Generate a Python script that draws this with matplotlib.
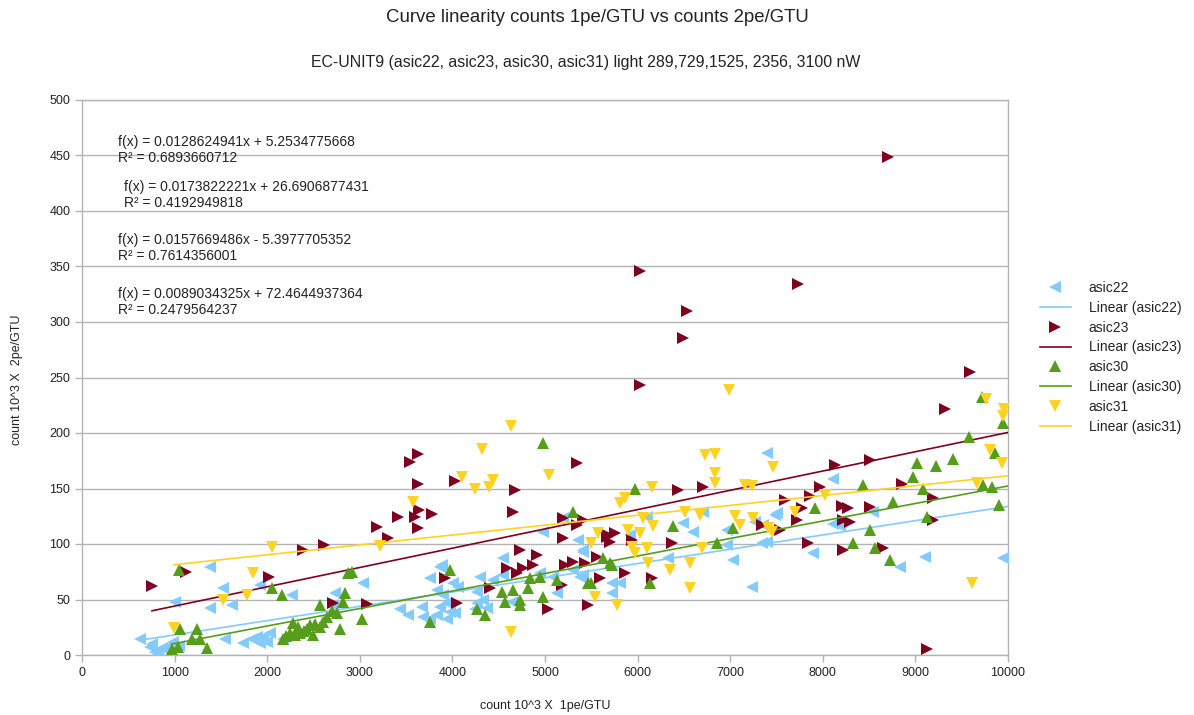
import numpy as np
import matplotlib
matplotlib.use("Agg")
import matplotlib.pyplot as plt

plt.rcParams['font.family'] = ['Liberation Sans', 'DejaVu Sans']

# ---- measured counts (x: 10^3 counts 1pe/GTU, y: 10^3 counts 2pe/GTU) ----
asic22_x = [626, 734, 788, 821, 864, 918, 950, 760, 1050, 980, 1004, 1382, 1523, 1382, 1620, 1544,
            1739, 1836, 1890, 1955, 2030, 1922, 1998, 1922, 2268, 2171, 2732, 2711, 3035, 3434,
            3520, 3672, 3683, 3758, 3866, 3758, 3834, 3898, 3866, 3941, 3974, 4028, 4006, 4060,
            3834, 3941, 4266, 4330, 4298, 4244, 4374, 4266, 4546, 4546, 4438, 4644, 4946, 5130,
            5086, 5302, 5378, 5410, 3888, 4978, 5194, 5356, 5410, 5410, 5724, 5724, 5810, 5918,
            6101, 6490, 6598, 6706, 6328, 7030, 7235, 6965, 6965, 7268, 7505, 7343, 7397, 7894,
            7397, 8110, 7354, 7484, 8110, 8186, 8542, 8834, 9104, 9946]
asic22_y = [14, 7, 3, 0, 6, 7, 3, 10, 8, 12, 48, 79, 60, 42, 45, 14,
            11, 14, 16, 16, 20, 11, 12, 63, 54, 14, 56, 45, 65, 41,
            36, 43, 34, 32, 79, 69, 59, 54, 43, 47, 39, 38, 65, 61,
            36, 32, 47, 50, 70, 41, 42, 57, 87, 72, 68, 48, 74, 56,
            70, 77, 70, 93, 81, 111, 123, 104, 95, 72, 65, 56, 65, 108,
            124, 119, 111, 129, 87, 86, 61, 113, 99, 120, 128, 101, 102, 92,
            182, 159, 117, 126, 118, 116, 129, 79, 88, 87]

asic23_x = [756, 1123, 2019, 2387, 2613, 2711, 3078, 3186, 3305, 3413, 3542, 3596, 3629, 3629,
            3629, 3639, 3780, 3920, 4028, 4050, 4406, 4590, 4654, 4676, 4698, 4730, 4762, 4870,
            4914, 5032, 5184, 5194, 5194, 5216, 5302, 5346, 5346, 5464, 5432, 5562, 5680, 5756,
            5702, 5864, 6155, 6372, 6436, 6706, 6026, 6026, 6490, 6533, 5940, 5670, 5410, 5594,
            7343, 7538, 7592, 7721, 7732, 7775, 7840, 7862, 7970, 8132, 8207, 8218, 8218, 8272,
            8294, 8510, 8510, 8650, 8704, 8855, 9125, 9190, 9190, 9320, 9590]
asic23_y = [62, 75, 70, 95, 99, 47, 46, 115, 105, 124, 174, 124, 181, 154,
            114, 131, 127, 69, 157, 47, 60, 78, 129, 149, 74, 95, 78, 81,
            90, 41, 63, 123, 105, 81, 84, 173, 117, 45, 83, 88, 108, 110,
            102, 74, 69, 101, 149, 151, 346, 243, 286, 310, 104, 106, 122, 69,
            117, 113, 140, 122, 334, 132, 101, 143, 151, 171, 134, 122, 95, 132,
            120, 176, 133, 96, 449, 154, 5, 141, 122, 222, 255]

asic30_x = [972, 1037, 1047, 1058, 1188, 1242, 1274, 1350, 2052, 2160, 2171, 2279, 2354, 2430,
            2495, 2570, 2570, 2646, 2754, 2786, 2840, 2873, 2916, 3024, 2818, 2250, 2300, 2400,
            2460, 2520, 2600, 2700, 2330, 2200, 3974, 3758, 4266, 4352, 4536, 4568, 4654, 4730,
            4730, 4816, 4838, 4946, 4978, 5130, 5464, 4978, 5302, 5972, 6382, 5497, 5702, 6134,
            7030, 6857, 7916, 5724, 5627, 9719, 9579, 9946, 9860, 9017, 9222, 9406, 8974, 9082,
            8434, 9730, 9827, 8758, 9903, 9125, 8326, 8510, 8564, 8726]
asic30_y = [5, 7, 77, 23, 14, 23, 14, 6, 60, 54, 14, 29, 20, 23,
            18, 45, 25, 34, 38, 23, 56, 74, 75, 32, 48, 20, 18, 22,
            27, 28, 30, 40, 25, 17, 77, 30, 41, 36, 57, 48, 59, 50,
            45, 60, 69, 70, 52, 68, 65, 191, 129, 150, 116, 65, 83, 65,
            114, 101, 132, 81, 87, 232, 196, 209, 182, 173, 170, 177, 160, 150,
            153, 153, 151, 138, 135, 124, 101, 113, 96, 86]

asic31_x = [994, 1523, 1782, 1847, 2052, 3218, 3575, 4104, 4244, 4320, 4395, 4438, 4633, 5043,
            4633, 5497, 5540, 5572, 5778, 5810, 5864, 5896, 5940, 5972, 6026, 6058, 6101, 6112,
            6155, 6166, 6350, 6512, 6566, 6566, 6674, 6695, 6728, 6836, 6836, 6836, 6987, 7052,
            7106, 7160, 7235, 7246, 7408, 7451, 7462, 7700, 8024, 9611, 9665, 9762, 9806, 9935,
            9946, 9957]
asic31_y = [24, 50, 54, 74, 97, 98, 138, 160, 150, 186, 151, 158, 206, 162,
            21, 101, 52, 110, 45, 137, 141, 113, 97, 92, 110, 123, 96, 83,
            151, 116, 77, 129, 83, 60, 126, 96, 180, 181, 164, 155, 239, 125,
            117, 153, 152, 123, 114, 111, 169, 129, 144, 65, 155, 231, 185, 173,
            215, 222]

series_names = ['asic22', 'asic23', 'asic30', 'asic31']
series_colors = ['#83caff', '#7e0021', '#579d1c', '#ffd320']
series_markers = ['<', '>', '^', 'v']

# linear trend lines f(x) = a*x + b and their R^2
trend_slopes = [0.0128624941, 0.0173822221, 0.0157669486, 0.0089034325]
trend_intercepts = [5.2534775668, 26.6906877431, -5.3977705352, 72.4644937364]
trend_r2 = [0.6893660712, 0.4192949818, 0.7614356001, 0.2479564237]

x_ticks = list(range(0, 10001, 1000))
y_ticks = list(range(0, 501, 50))

xs = [asic22_x, asic23_x, asic30_x, asic31_x]
ys = [asic22_y, asic23_y, asic30_y, asic31_y]

W, H = 1194, 715
fig = plt.figure(figsize=(W / 100, H / 100), dpi=100)
ax = fig.add_axes([82 / W, 1 - 655 / H, (1008 - 82) / W, (655 - 100) / H])

xmin, xmax = x_ticks[0], x_ticks[-1]
ax.set_xlim(xmin, xmax)
ax.set_ylim(y_ticks[0], y_ticks[-1])

for i, name in enumerate(series_names):
    ax.plot(xs[i], ys[i], linestyle='none', marker=series_markers[i], markersize=8.5,
            color=series_colors[i], markeredgewidth=0, label=name, zorder=3 + i)
    lx = np.array([min(xs[i]), xmax])
    ax.plot(lx, trend_slopes[i] * lx + trend_intercepts[i], color=series_colors[i],
            linewidth=1.2, label=f'Linear ({name})', zorder=3 + i)

ax.set_xticks(x_ticks)
ax.set_yticks(y_ticks)
ax.grid(axis='y', color='#b3b3b3', linewidth=1)
ax.set_axisbelow(True)
for s in ax.spines.values():
    s.set_color('#b3b3b3')
    s.set_linewidth(1)
ax.tick_params(axis='both', colors='#b3b3b3', labelcolor='#222222', labelsize=9,
               length=5, width=1)

fig.text(17 / W, 1 - 380 / H, 'count 10^3 X  2pe/GTU', rotation=90, ha='center', va='center',
         fontsize=9, color='#222222')
fig.text(545 / W, 1 - 706 / H, 'count 10^3 X  1pe/GTU', ha='center', va='center',
         fontsize=9, color='#222222')

fig.text(597 / W, 1 - 17 / H, 'Curve linearity counts 1pe/GTU vs counts 2pe/GTU',
         ha='center', va='center', fontsize=13.4, color='#222222')
fig.text(586 / W, 1 - 62 / H,
         'EC-UNIT9 (asic22, asic23, asic30, asic31) light 289,729,1525, 2356, 3100 nW',
         ha='center', va='center', fontsize=11.4, color='#222222')

# trend line equations
eq_pos = [(118, 135), (124, 180), (118, 233), (118, 287)]
for (px, py), a, b, r2 in zip(eq_pos, trend_slopes, trend_intercepts, trend_r2):
    sign = '+' if b >= 0 else '-'
    txt = f'f(x) = {a:.10f}x {sign} {abs(b):.10f}\nR² = {r2:.10f}'
    fig.text(px / W, 1 - py / H, txt, ha='left', va='top', fontsize=10,
             linespacing=1.2, color='#222222')

leg = ax.legend(loc='upper left', bbox_to_anchor=(1033 / W, 1 - 274 / H),
                bbox_transform=fig.transFigure, frameon=False, fontsize=10,
                handlelength=2.2, handletextpad=1.3, labelspacing=0.42, borderpad=0)
for t in leg.get_texts():
    t.set_color('#222222')

fig.savefig('out.png', dpi=100)
